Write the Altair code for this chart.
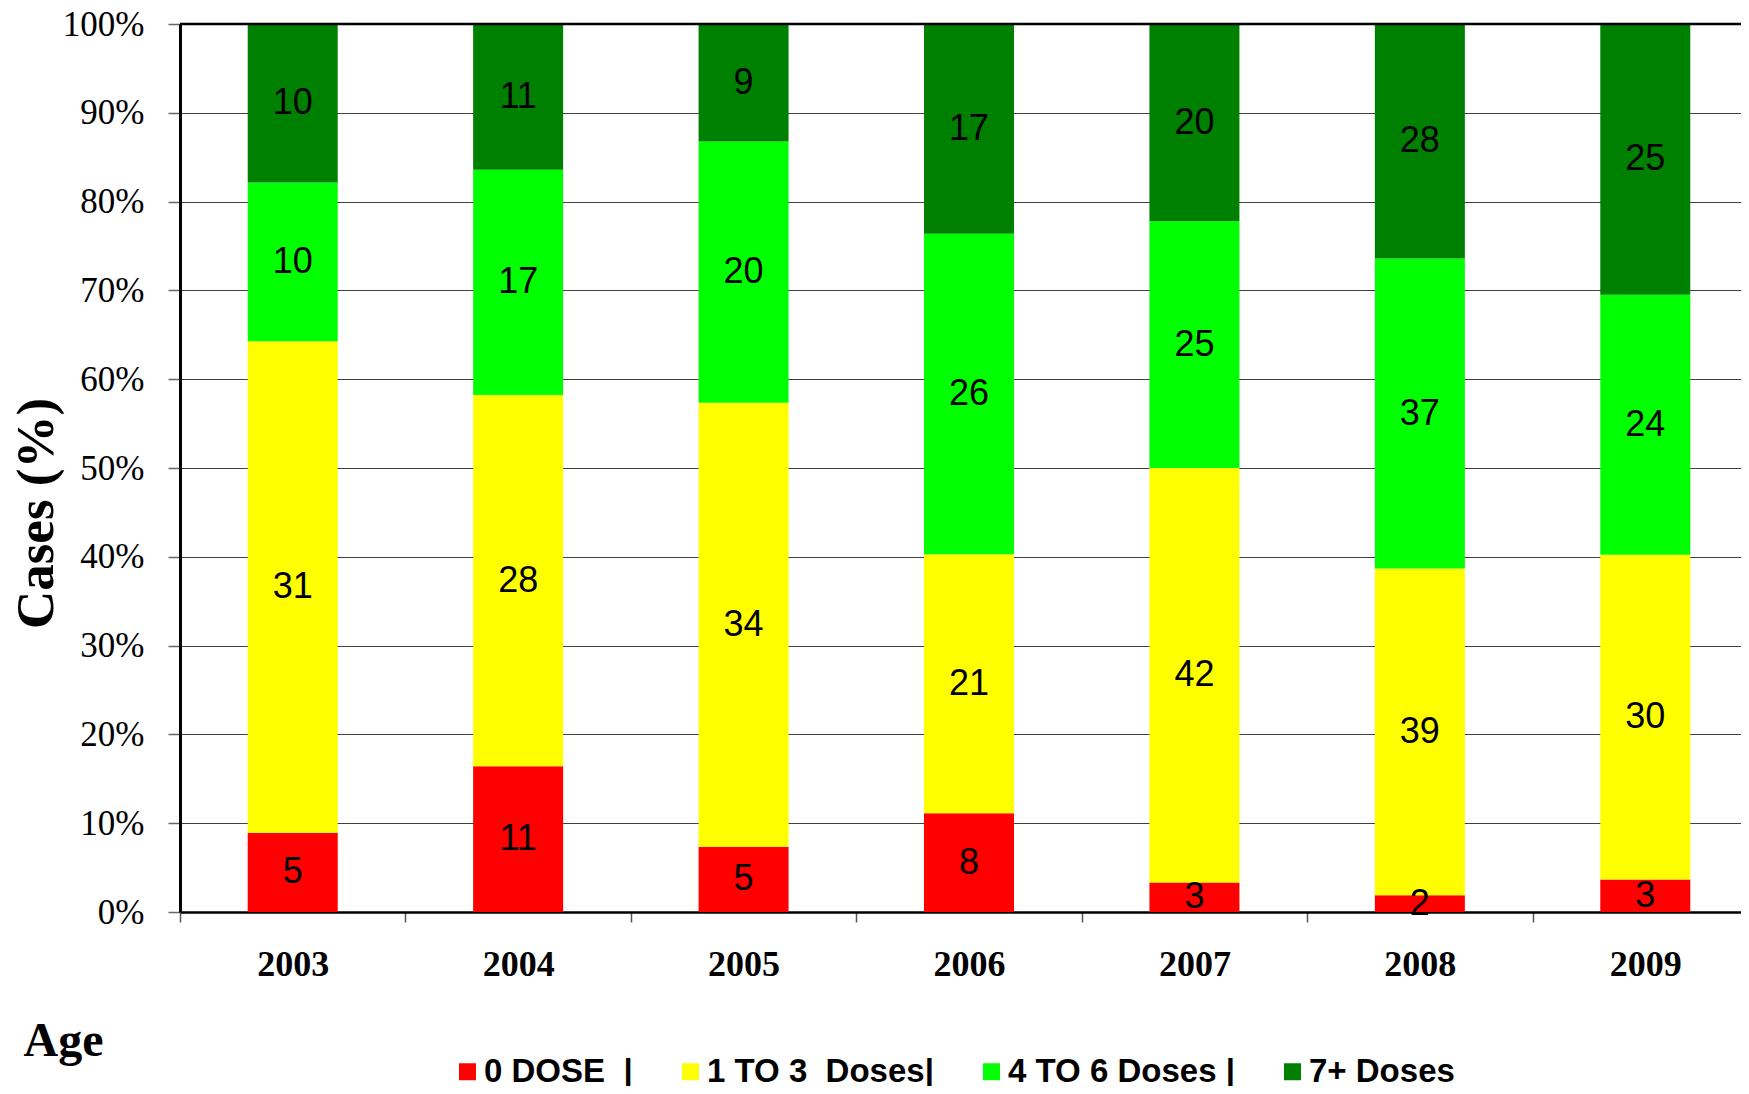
import altair as alt
import pandas as pd

years = ["2003", "2004", "2005", "2006", "2007", "2008", "2009"]
groups = ["0 DOSE", "1 TO 3  Doses", "4 TO 6 Doses", "7+ Doses"]
legend_labels = ["0 DOSE\u00a0\u00a0|", "1 TO 3\u00a0\u00a0Doses|", "4 TO 6 Doses\u00a0|", "7+ Doses"]
dose_0 = [5, 11, 5, 8, 3, 2, 3]
dose_1_3 = [31, 28, 34, 21, 42, 39, 30]
dose_4_6 = [10, 17, 20, 26, 25, 37, 24]
dose_7p = [10, 11, 9, 17, 20, 28, 25]
colors = ["#FF0000", "#FFFF00", "#00FF00", "#008000"]
y_ticks = [0, 0.1, 0.2, 0.3, 0.4, 0.5, 0.6, 0.7, 0.8, 0.9, 1.0]

series = [dose_0, dose_1_3, dose_4_6, dose_7p]
rows = []
for gi, (g, vals) in enumerate(zip(groups, series)):
    for y, v in zip(years, vals):
        rows.append({"year": y, "group": g, "value": v, "idx": gi})
df = pd.DataFrame(rows)

label_map = "{" + ", ".join(f"'{g}': '{l}'" for g, l in zip(groups, legend_labels)) + "}"
label_expr = f"{label_map}[datum.label]"

x_scale = alt.Scale(domain=years, range=[0, 1578], paddingInner=0, paddingOuter=0)
y_scale = alt.Scale(domain=[0, 1])

base = alt.Chart(df).transform_stack(
    stack="value", groupby=["year"], as_=["y0", "y1"], offset="normalize",
    sort=[alt.SortField("idx", order="ascending")]
).transform_calculate(mid="(datum.y0 + datum.y1) / 2")

bars = base.mark_bar(size=90).encode(
    x=alt.X("year:N", scale=x_scale, sort=years, axis=alt.Axis(
        title="Age", titleFont="Liberation Serif", titleFontSize=48, titleFontWeight="bold",
        titleColor="black", titleX=-157, titleY=143, titleAlign="left", titleBaseline="alphabetic",
        labelFont="Liberation Serif", labelFontSize=36, labelFontWeight="bold", labelColor="black",
        labelAngle=0, labelPadding=25, tickBand="extent", tickSize=10, tickColor="#555555",
        tickWidth=1.5, domainColor="black", domainWidth=2.5, grid=False)),
    y=alt.Y("y0:Q", scale=y_scale, stack=None, axis=alt.Axis(
        values=y_ticks, format=".0%", title="Cases (%)", titleFont="Liberation Serif",
        titleFontSize=53, titleFontWeight="bold", titleColor="black", titleAngle=270,
        titleX=-144, titleY=489, titleAlign="center", titleBaseline="middle",
        labelFont="Liberation Serif", labelFontSize=35, labelColor="black", labelPadding=24,
        tickSize=12, tickColor="#666666", tickWidth=1.5, domainColor="black", domainWidth=3,
        grid=True, gridColor="#404040", gridWidth=1.2, gridOpacity=1)),
    y2="y1:Q",
    color=alt.Color("group:N", scale=alt.Scale(domain=groups, range=colors), legend=alt.Legend(
        title=None, orient="none", legendX=271, legendY=1031, direction="horizontal", columns=4,
        symbolType="square", symbolSize=289, symbolStrokeWidth=0, labelFont="Liberation Sans",
        labelFontSize=33, labelFontWeight="bold", labelColor="black", labelOffset=0,
        columnPadding=41, padding=0, labelLimit=500, labelExpr=label_expr)),
)

texts = base.mark_text(font="Liberation Sans", fontSize=36, color="black", baseline="middle").encode(
    x=alt.X("year:N", scale=x_scale, sort=years),
    y=alt.Y("mid:Q", scale=y_scale, stack=None),
    text="value:Q",
)

top_rule = alt.Chart(pd.DataFrame({"top": [1.0]})).mark_rule(color="black", strokeWidth=2.5).encode(
    y=alt.Y("top:Q", scale=y_scale)
)

chart = alt.layer(bars, texts, top_rule).properties(
    width=1561, height=888,
    autosize=alt.AutoSizeParams(type="none"),
    padding={"left": 172, "top": 16, "right": 0, "bottom": 174},
).configure_view(stroke=None)

chart.save("out.html", embed_options={"renderer": "svg", "actions": False})
